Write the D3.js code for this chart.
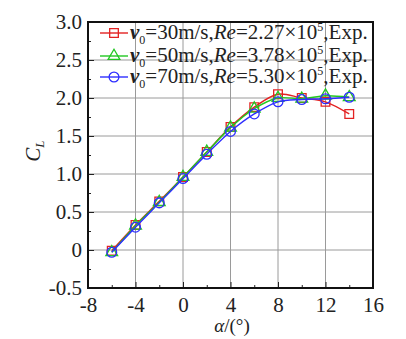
<!DOCTYPE html>
<html>
<head>
<meta charset="utf-8">
<script src="https://cdn.jsdelivr.net/npm/d3@7"></script>
<style>
body { margin: 0; background: #fff; }
text { font-family: "Liberation Serif", "Times New Roman", serif; fill: #222; }
</style>
</head>
<body>
<script>
var width = 406;
var height = 339;

// データ
var alpha = [-6, -4, -2, 0, 2, 4, 6, 8, 10, 12, 14];
var cl30 = [-0.01, 0.33, 0.64, 0.96, 1.29, 1.62, 1.88, 2.05, 2.00, 1.95, 1.79];
var cl50 = [-0.03, 0.32, 0.63, 0.96, 1.29, 1.61, 1.86, 2.00, 1.99, 2.03, 2.01];
var cl70 = [-0.03, 0.30, 0.62, 0.94, 1.26, 1.56, 1.79, 1.95, 1.98, 1.99, 2.01];
var xTicks = [-8, -4, 0, 4, 8, 12, 16];
var xTickLabels = ["-8", "-4", "0", "4", "8", "12", "16"];
var yTicks = [-0.5, 0, 0.5, 1.0, 1.5, 2.0, 2.5, 3.0];
var yTickLabels = ["-0.5", "0", "0.5", "1.0", "1.5", "2.0", "2.5", "3.0"];
var speeds = ["30", "50", "70"];
var reNums = ["2.27", "3.78", "5.30"];

var series = [
    { v: cl30, color: "#e32222", sym: d3.symbolSquare },
    { v: cl50, color: "#22c722", sym: d3.symbolTriangle },
    { v: cl70, color: "#2e2eff", sym: d3.symbolCircle }
];

var pLeft = 88, pRight = 373, pTop = 22, pBottom = 288;
var fs = 21;

var svg = d3.select("body").append("svg")
    .attr("width", width)
    .attr("height", height);

var x = d3.scaleLinear().domain([-8, 16]).range([pLeft, pRight]);
var y = d3.scaleLinear().domain([-0.5, 3.0]).range([pBottom, pTop]);

// グリッド
svg.append("g").selectAll("line").data(xTicks.slice(1, -1)).enter().append("line")
    .attr("x1", d => x(d)).attr("x2", d => x(d))
    .attr("y1", pTop).attr("y2", pBottom)
    .attr("stroke", "#9a9a9a").attr("stroke-width", 1);
svg.append("g").selectAll("line").data(yTicks.slice(1, -1)).enter().append("line")
    .attr("y1", d => y(d)).attr("y2", d => y(d))
    .attr("x1", pLeft).attr("x2", pRight)
    .attr("stroke", "#9a9a9a").attr("stroke-width", 1);

// 軸（内向き目盛）
var xAxis = d3.axisBottom(x).tickValues(xTicks).tickSizeInner(-6).tickSizeOuter(0).tickPadding(9)
    .tickFormat((d, i) => xTickLabels[i]);
var xMinor = d3.axisBottom(x).tickValues(d3.range(-6, 16, 4)).tickSize(-3).tickFormat("");
var yAxis = d3.axisLeft(y).tickValues(yTicks).tickSizeInner(-6).tickSizeOuter(0).tickPadding(6)
    .tickFormat((d, i) => yTickLabels[i]);
var yMinor = d3.axisLeft(y).tickValues(d3.range(-0.25, 3.0, 0.5)).tickSize(-3).tickFormat("");

function styleAxis(g) {
    g.select(".domain").remove();
    g.selectAll("line").attr("stroke", "#222");
    g.selectAll("text").attr("font-size", fs).attr("font-family", "Liberation Serif").attr("fill", "#222");
}
svg.append("g").attr("transform", "translate(0," + pBottom + ")").call(xAxis).call(styleAxis);
svg.append("g").attr("transform", "translate(0," + pBottom + ")").call(xMinor).call(styleAxis);
svg.append("g").attr("transform", "translate(" + pLeft + ",0)").call(yAxis).call(styleAxis);
svg.append("g").attr("transform", "translate(" + pLeft + ",0)").call(yMinor).call(styleAxis);

// 枠
svg.append("rect")
    .attr("x", pLeft).attr("y", pTop)
    .attr("width", pRight - pLeft).attr("height", pBottom - pTop)
    .attr("fill", "none").attr("stroke", "#111").attr("stroke-width", 2);

// 曲線
var line = d3.line()
    .x((d, i) => x(alpha[i]))
    .y(d => y(d))
    .curve(d3.curveCatmullRom.alpha(0.5));

function symSize(s) { return s === d3.symbolTriangle ? 60 : 75; }

series.forEach(function (s) {
    svg.append("path")
        .datum(s.v)
        .attr("d", line)
        .attr("fill", "none")
        .attr("stroke", s.color)
        .attr("stroke-width", 1.4);
    svg.append("g").selectAll("path").data(s.v).enter().append("path")
        .attr("transform", (d, i) => "translate(" + x(alpha[i]) + "," + y(d) + ")")
        .attr("d", d3.symbol().type(s.sym).size(symSize(s.sym)))
        .attr("fill", "none")
        .attr("stroke", s.color)
        .attr("stroke-width", 1.3);
});

// 凡例
var legY = [33, 56, 77];
series.forEach(function (s, i) {
    var g = svg.append("g").attr("transform", "translate(0," + legY[i] + ")");
    g.append("line").attr("x1", 100).attr("x2", 128).attr("y1", 0).attr("y2", 0)
        .attr("stroke", s.color).attr("stroke-width", 1.4);
    g.append("path").attr("transform", "translate(114,0)")
        .attr("d", d3.symbol().type(s.sym).size(symSize(s.sym)))
        .attr("fill", "none").attr("stroke", s.color).attr("stroke-width", 1.3);
    var t = g.append("text").attr("x", 130).attr("y", 6).attr("font-size", fs);
    t.append("tspan").attr("font-style", "italic").attr("font-weight", "bold").text("v");
    t.append("tspan").attr("font-size", 12).attr("dy", 5).text("0");
    t.append("tspan").attr("dy", -5).text("=" + speeds[i] + "m/s,");
    t.append("tspan").attr("font-style", "italic").text("Re");
    t.append("tspan").text("=" + reNums[i] + "×10");
    t.append("tspan").attr("font-size", 12).attr("dy", -8).text("5");
    t.append("tspan").attr("dy", 8).text(",Exp.");
});

// 軸ラベル
var yl = svg.append("text")
    .attr("transform", "translate(40," + y(1.3) + ") rotate(-90)")
    .attr("text-anchor", "middle")
    .attr("font-size", fs).attr("font-style", "italic");
yl.append("tspan").text("C");
yl.append("tspan").attr("font-size", 13).attr("dy", 4).text("L");

var xl = svg.append("text")
    .attr("x", 232).attr("y", 332)
    .attr("text-anchor", "middle")
    .attr("font-size", 19);
xl.append("tspan").attr("font-style", "italic").text("α");
xl.append("tspan").text("/(°)");
</script>
</body>
</html>
